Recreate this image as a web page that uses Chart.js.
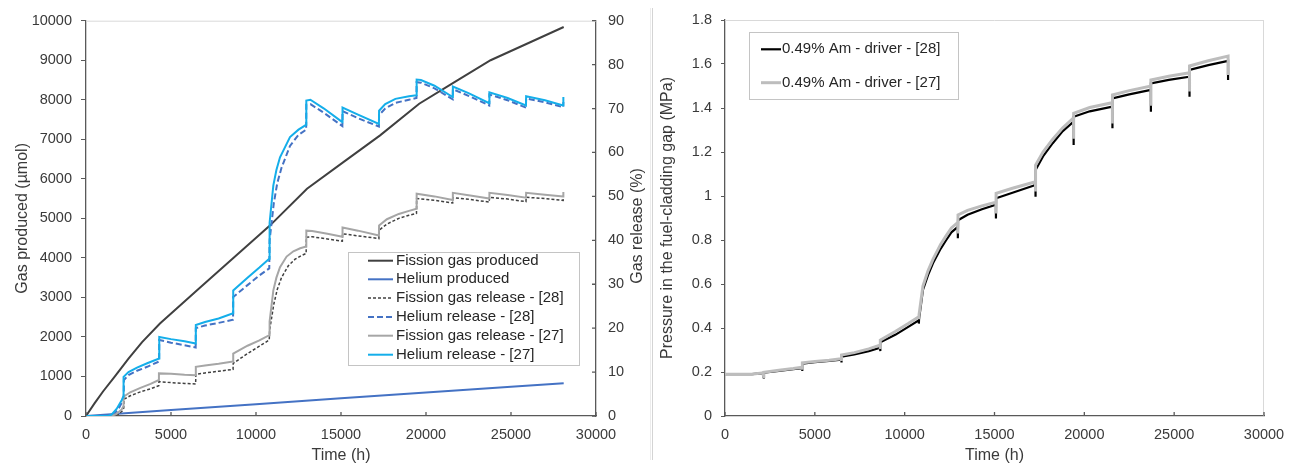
<!DOCTYPE html>
<html>
<head>
<meta charset="utf-8">
<title>Gas production, release and gap pressure</title>
<script src="https://cdn.jsdelivr.net/npm/chart.js"></script>
<style>
  html, body { margin: 0; background: #fff; }
  #wrap { position: relative; width: 1300px; height: 468px; }
  .panel { position: absolute; top: 0; width: 650px; height: 468px; }
  .sep { position: absolute; top: 8px; height: 452px; width: 1px; }
</style>
</head>
<body>
<div id="wrap">
  <div class="panel" style="left:0"><canvas id="gasChart"></canvas></div>
  <div class="sep" style="left:650px;background:#ececec"></div>
  <div class="sep" style="left:652px;background:#d4d4d4"></div>
  <div class="panel" style="left:650px"><canvas id="pressureChart"></canvas></div>
</div>
<script>
// [time (h), value] pairs
// produced gas, µmol
const fissionProduced = [[0, 0], [500, 320], [1000, 620], [1700, 1000], [2500, 1450], [3300, 1870], [4350, 2340], [6500, 3170], [8700, 4010], [10800, 4810], [13000, 5750], [15200, 6440], [17300, 7100], [19600, 7900], [21700, 8450], [23800, 9000], [26000, 9430], [28100, 9840]]
const heliumProduced = [[0, 0], [5000, 150], [10000, 298], [15000, 446], [20000, 593], [25000, 740], [28100, 830]]

// released gas, %
const fissionRelease28 = [[0, 0], [1600, 0], [1900, 0.4], [2150, 1.2], [2220, 1.8], [2230, 3.8], [2600, 4.6], [3200, 5.5], [3800, 6.2], [4280, 6.9], [4290, 7.8], [5000, 7.6], [5800, 7.4], [6450, 7.3], [6460, 9.5], [7000, 9.8], [7800, 10.2], [8650, 10.6], [8660, 12.0], [9500, 14.2], [10200, 15.9], [10780, 17.3], [10800, 19.5], [11050, 25.5], [11250, 28.8], [11500, 31.5], [11900, 34.2], [12300, 35.7], [12650, 36.5], [12950, 37.0], [12960, 40.7], [13300, 40.8], [14200, 40.3], [15080, 39.8], [15090, 41.5], [16000, 41.0], [17230, 40.4], [17240, 42.3], [17700, 43.7], [18400, 45.0], [19000, 45.7], [19440, 46.1], [19450, 49.5], [20500, 49.1], [21570, 48.5], [21580, 49.7], [22600, 49.3], [23720, 48.7], [23730, 49.8], [24800, 49.4], [25880, 48.8], [25890, 49.8], [27000, 49.5], [28070, 49.1], [28080, 49.7]]
const heliumRelease28 = [[0, 0], [1400, 0], [1600, 0.3], [1900, 1.5], [2150, 3.4], [2220, 4.3], [2230, 8.2], [2500, 9.3], [3000, 10.3], [3600, 11.2], [4300, 12.4], [4310, 17.3], [5000, 16.7], [5800, 16.1], [6450, 15.6], [6460, 20.0], [7000, 20.6], [7800, 21.2], [8650, 21.9], [8660, 27.1], [9500, 29.8], [10200, 32.0], [10780, 33.6], [10800, 40], [11050, 48.5], [11250, 53], [11500, 56.5], [12000, 61.5], [12500, 64.0], [12950, 65.2], [12960, 70.9], [13200, 71.0], [14000, 69.0], [15080, 66.0], [15090, 69.4], [16000, 67.8], [17230, 65.9], [17240, 68.5], [17600, 70.0], [18200, 71.3], [19000, 72.0], [19440, 72.4], [19450, 76.0], [19700, 75.9], [20500, 74.6], [21570, 72.1], [21580, 74.4], [22500, 72.9], [23720, 70.7], [23730, 73.2], [24800, 71.9], [25880, 70.2], [25890, 72.3], [27000, 71.4], [28070, 70.3], [28080, 71.5]]
const fissionRelease27 = [[0, 0], [1500, 0], [1800, 0.5], [2100, 1.5], [2200, 2.2], [2210, 4.4], [2600, 5.4], [3200, 6.4], [3800, 7.3], [4280, 8.2], [4290, 9.7], [5000, 9.6], [5800, 9.4], [6450, 9.3], [6460, 11.2], [7000, 11.5], [7800, 11.9], [8650, 12.4], [8660, 14.2], [9500, 16.0], [10200, 17.2], [10780, 18.4], [10800, 21.5], [11020, 28.6], [11200, 31.5], [11412, 33.9], [11800, 36.3], [12200, 37.5], [12600, 38.2], [12950, 38.6], [12960, 42.2], [13300, 42.1], [14200, 41.5], [15080, 40.8], [15090, 42.9], [16000, 42.2], [17230, 41.1], [17240, 43.4], [17700, 44.8], [18400, 46.0], [19000, 46.7], [19440, 47.2], [19450, 50.6], [20500, 50.0], [21570, 49.2], [21580, 50.8], [22600, 50.2], [23720, 49.5], [23730, 50.8], [24800, 50.3], [25880, 49.7], [25890, 50.8], [27000, 50.4], [28070, 50.0], [28080, 51.0]]
const heliumRelease27 = [[0, 0], [1300, 0], [1500, 0.3], [1800, 1.6], [2100, 3.6], [2200, 4.5], [2210, 8.9], [2500, 10.0], [3000, 11.0], [3600, 12.0], [4300, 13.1], [4310, 18.0], [5000, 17.5], [5800, 17.0], [6450, 16.5], [6460, 20.7], [7000, 21.4], [7800, 22.2], [8650, 23.4], [8660, 28.6], [9500, 31.5], [10200, 33.8], [10780, 35.8], [10800, 44], [11020, 52.5], [11200, 56], [11412, 58.9], [12000, 63.5], [12500, 65.2], [12950, 66.3], [12960, 71.8], [13200, 72.0], [14000, 70.0], [15080, 66.9], [15090, 70.2], [16000, 68.6], [17230, 66.5], [17240, 69.5], [17600, 71.0], [18200, 72.2], [19000, 72.8], [19440, 73.0], [19450, 76.6], [19700, 76.5], [20500, 75.2], [21570, 72.6], [21580, 75.0], [22500, 73.5], [23720, 71.2], [23730, 73.7], [24800, 72.4], [25880, 70.7], [25890, 72.8], [27000, 71.9], [28070, 70.7], [28080, 72.6]]

// gap pressure, MPa (drop at each cycle end, then restart)
const pressure28 = [[0, 0.19], [1500, 0.19], [2100, 0.195], [2150, 0.175], [2160, 0.197], [3000, 0.205], [3800, 0.213], [4300, 0.218], [4300, 0.205], [4310, 0.238], [5000, 0.245], [5800, 0.25], [6480, 0.256], [6480, 0.243], [6490, 0.27], [7200, 0.28], [8000, 0.295], [8640, 0.31], [8640, 0.295], [8650, 0.335], [9500, 0.37], [10200, 0.405], [10790, 0.435], [10790, 0.42], [10800, 0.44], [11017, 0.573], [11300, 0.64], [11574, 0.694], [12000, 0.76], [12315, 0.80], [12600, 0.835], [12960, 0.86], [12960, 0.808], [12970, 0.89], [13500, 0.915], [14300, 0.94], [15080, 0.96], [15080, 0.898], [15090, 0.99], [16000, 1.015], [17280, 1.05], [17280, 0.997], [17290, 1.118], [17700, 1.18], [18241, 1.24], [18800, 1.295], [19400, 1.338], [19400, 1.232], [19410, 1.36], [20300, 1.385], [21560, 1.406], [21560, 1.308], [21570, 1.444], [22500, 1.462], [23700, 1.482], [23700, 1.383], [23710, 1.512], [24700, 1.528], [25850, 1.542], [25850, 1.451], [25860, 1.573], [26900, 1.595], [28000, 1.614], [28000, 1.527]]
const pressure27 = [[0, 0.19], [1500, 0.19], [2100, 0.196], [2150, 0.18], [2160, 0.199], [3000, 0.208], [3800, 0.216], [4300, 0.222], [4300, 0.21], [4310, 0.242], [5000, 0.248], [5800, 0.253], [6480, 0.26], [6480, 0.25], [6490, 0.277], [7200, 0.288], [8000, 0.305], [8640, 0.322], [8640, 0.305], [8650, 0.345], [9500, 0.385], [10200, 0.42], [10790, 0.451], [10790, 0.44], [10800, 0.46], [11017, 0.59], [11300, 0.66], [11574, 0.712], [12000, 0.78], [12315, 0.82], [12600, 0.855], [12960, 0.88], [12960, 0.83], [12970, 0.914], [13500, 0.935], [14300, 0.955], [15080, 0.972], [15080, 0.92], [15090, 1.012], [16000, 1.035], [17280, 1.065], [17280, 1.02], [17290, 1.14], [17700, 1.2], [18241, 1.258], [18800, 1.31], [19400, 1.355], [19400, 1.26], [19410, 1.376], [20300, 1.402], [21560, 1.424], [21560, 1.33], [21570, 1.459], [22500, 1.479], [23700, 1.50], [23700, 1.41], [23710, 1.527], [24700, 1.544], [25850, 1.56], [25850, 1.475], [25860, 1.591], [26900, 1.615], [28000, 1.636], [28000, 1.55]]

const FONT = "'Liberation Sans', Arial, sans-serif"
const AXIS = '#595959'
const FRAME = '#d9d9d9'
const TEXT = '#3a3a3a'

Chart.defaults.font.family = FONT
Chart.defaults.color = TEXT

const toXY = pts => pts.map(([x, y]) => ({ x, y }))
const plain = v => String(v)

// light frame where there is no axis + small tick marks pointing into the plot
const frameTicks = {
  id: 'frameTicks',
  afterDraw (chart, args, o) {
    const { ctx, chartArea: a } = chart
    ctx.save()
    ctx.strokeStyle = FRAME
    ctx.lineWidth = 1
    ctx.beginPath()
    ctx.moveTo(a.left, a.top + 0.5)
    ctx.lineTo(a.right, a.top + 0.5)
    if (o.rightFrame) {
      ctx.moveTo(a.right - 0.5, a.top)
      ctx.lineTo(a.right - 0.5, a.bottom)
    }
    ctx.stroke()
    ctx.strokeStyle = AXIS
    ctx.lineWidth = 1.3
    ctx.beginPath()
    for (const id of o.inner || []) {
      const s = chart.scales[id]
      for (const t of s.ticks) {
        const p = s.getPixelForValue(t.value)
        if (s.isHorizontal()) {
          ctx.moveTo(p, a.bottom)
          ctx.lineTo(p, a.bottom - 4)
        } else {
          ctx.moveTo(a.right, p)
          ctx.lineTo(a.right - 4, p)
        }
      }
    }
    ctx.stroke()
    ctx.restore()
  }
}

// boxed legend sitting inside the plot
const boxLegend = {
  id: 'boxLegend',
  afterDatasetsDraw (chart, args, o) {
    const { ctx } = chart
    ctx.save()
    ctx.fillStyle = '#fff'
    ctx.fillRect(o.x, o.y, o.w, o.h)
    ctx.strokeStyle = '#c4c4c4'
    ctx.lineWidth = 1
    ctx.strokeRect(o.x + 0.5, o.y + 0.5, o.w, o.h)
    ctx.font = '15px ' + FONT
    ctx.textBaseline = 'middle'
    chart.data.datasets.forEach((ds, i) => {
      const y = o.rows[i]
      ctx.strokeStyle = ds.borderColor
      ctx.lineWidth = ds.borderWidth
      ctx.setLineDash(ds.borderDash || [])
      ctx.beginPath()
      ctx.moveTo(o.line[0], y)
      ctx.lineTo(o.line[1], y)
      ctx.stroke()
      ctx.setLineDash([])
      ctx.fillStyle = '#262626'
      ctx.fillText(ds.label, o.textX, y)
    })
    ctx.restore()
  }
}

// right axis title, reading bottom to top like the left one
const sideTitle = {
  id: 'sideTitle',
  afterDraw (chart, args, o) {
    if (!o.text) return
    const { ctx } = chart
    ctx.save()
    ctx.translate(o.x, o.y)
    ctx.rotate(-Math.PI / 2)
    ctx.textAlign = 'center'
    ctx.textBaseline = 'middle'
    ctx.font = '16px ' + FONT
    ctx.fillStyle = TEXT
    ctx.fillText(o.text, 0, 0)
    ctx.restore()
  }
}

const line = (label, data, color, width, extra) => Object.assign({
  label,
  data: toXY(data),
  borderColor: color,
  backgroundColor: color,
  borderWidth: width,
  pointRadius: 0,
  tension: 0,
  fill: false
}, extra)

const gasSets = [
  line('Fission gas produced', fissionProduced, '#404040', 2, { yAxisID: 'y' }),
  line('Helium produced', heliumProduced, '#4472c4', 2, { yAxisID: 'y' }),
  line('Fission gas release - [28]', fissionRelease28, '#404040', 1.5, { yAxisID: 'y2', borderDash: [3, 2] }),
  line('Helium release - [28]', heliumRelease28, '#4472c4', 2, { yAxisID: 'y2', borderDash: [6, 3] }),
  line('Fission gas release - [27]', fissionRelease27, '#a6a6a6', 2, { yAxisID: 'y2' }),
  line('Helium release - [27]', heliumRelease27, '#14aeea', 2, { yAxisID: 'y2' })
]
// later series on top
gasSets.forEach((ds, i) => { ds.order = gasSets.length - i })

const tickFont = { size: 14.5 }
const titleFont = { size: 16 }

const timeAxis = () => ({
  type: 'linear',
  min: 0,
  max: 30000,
  ticks: { stepSize: 5000, padding: 10, maxRotation: 0, font: tickFont, callback: plain },
  grid: { display: false, drawTicks: false },
  border: { color: AXIS, width: 1.3 },
  title: { display: true, text: 'Time (h)', font: titleFont, padding: { top: 0, bottom: 3 } },
  afterFit: s => { s.height = 52 }
})

new Chart(document.getElementById('gasChart'), {
  type: 'line',
  data: { datasets: gasSets },
  plugins: [frameTicks, boxLegend, sideTitle],
  options: {
    responsive: true,
    maintainAspectRatio: false,
    animation: false,
    layout: { padding: { top: 20, left: 0, right: 0, bottom: 0 } },
    plugins: {
      legend: { display: false },
      tooltip: { enabled: false },
      frameTicks: { rightFrame: false, inner: ['x', 'y2'] },
      boxLegend: { x: 348, y: 252, w: 231, h: 113, rows: [260.7, 279.3, 298, 317, 335.7, 354.7], line: [368, 393], textX: 396 },
      sideTitle: { text: 'Gas release (%)', x: 638, y: 226 }
    },
    scales: {
      x: timeAxis(),
      y: {
        position: 'left',
        min: 0,
        max: 10000,
        ticks: { stepSize: 1000, padding: 9, font: tickFont, callback: plain },
        grid: { drawOnChartArea: false, tickLength: 5, color: AXIS },
        border: { color: AXIS, width: 1.3 },
        title: { display: true, text: 'Gas produced (µmol)', font: titleFont, padding: { top: 13, bottom: 0 } },
        afterFit: s => { s.width = 86 }
      },
      y2: {
        position: 'right',
        min: 0,
        max: 90,
        ticks: { stepSize: 10, padding: 12, font: tickFont, callback: plain },
        grid: { display: false, drawTicks: false },
        border: { color: AXIS, width: 1.3 },
        afterFit: s => { s.width = 54 }
      }
    }
  }
})

const pressureSets = [
  line('0.49% Am - driver - [28]', pressure28, '#000000', 2.2, { order: 2 }),
  line('0.49% Am - driver - [27]', pressure27, '#bdbdbd', 3, { order: 1 })
]

new Chart(document.getElementById('pressureChart'), {
  type: 'line',
  data: { datasets: pressureSets },
  plugins: [frameTicks, boxLegend],
  options: {
    responsive: true,
    maintainAspectRatio: false,
    animation: false,
    layout: { padding: { top: 20, left: 0, right: 36, bottom: 0 } },
    plugins: {
      legend: { display: false },
      tooltip: { enabled: false },
      frameTicks: { rightFrame: true, inner: ['x'] },
      boxLegend: { x: 99, y: 32, w: 209, h: 67, rows: [49.3, 82.7], line: [111, 131], textX: 132 }
    },
    scales: {
      x: timeAxis(),
      y: {
        position: 'left',
        min: 0,
        max: 1.8,
        ticks: { stepSize: 0.2, padding: 9, font: tickFont, callback: plain },
        grid: { drawOnChartArea: false, tickLength: 4, color: AXIS },
        border: { color: AXIS, width: 1.3 },
        title: { display: true, text: 'Pressure in the fuel-cladding gap (MPa)', font: titleFont, padding: { top: 8, bottom: 0 } },
        afterFit: s => { s.width = 75 }
      }
    }
  }
})
</script>
</body>
</html>
